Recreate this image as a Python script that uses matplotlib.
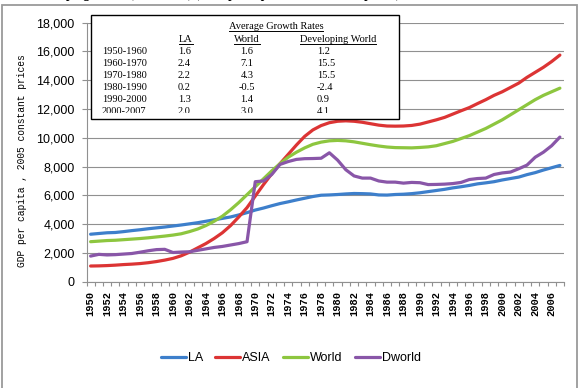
import numpy as np
import matplotlib
matplotlib.use('Agg')
import matplotlib.pyplot as plt
from matplotlib.patches import Rectangle
from matplotlib.lines import Line2D
from matplotlib.transforms import Bbox, TransformedBbox
from matplotlib.ticker import FuncFormatter, FixedLocator

# GDP per capita, 2005 constant prices
years = np.arange(1950, 2008)

la = [3300, 3350, 3400, 3420, 3480, 3550, 3610, 3680, 3740, 3800,
      3870, 3940, 4020, 4100, 4200, 4300, 4400, 4500, 4640, 4800,
      4980, 5120, 5280, 5430, 5550, 5680, 5800, 5920, 6010, 6030,
      6060, 6100, 6130, 6120, 6100, 6030, 6020, 6060, 6080, 6120,
      6180, 6260, 6340, 6420, 6520, 6600, 6690, 6800, 6870, 6950,
      7070, 7170, 7270, 7440, 7580, 7760, 7920, 8080]

asia = [1090, 1100, 1120, 1150, 1190, 1220, 1260, 1320, 1400, 1500,
        1620, 1800, 2050, 2350, 2650, 3000, 3400, 3900, 4500, 5150,
        5950, 6750, 7500, 8200, 8850, 9500, 10100, 10550, 10850, 11050,
        11150, 11180, 11150, 11080, 10980, 10880, 10820, 10810, 10820, 10860,
        10950, 11100, 11250, 11420, 11650, 11880, 12100, 12380, 12650, 12950,
        13200, 13500, 13800, 14200, 14550, 14900, 15300, 15750]

world = [2780, 2820, 2860, 2880, 2920, 2960, 3000, 3050, 3110, 3170,
         3240, 3330, 3480, 3660, 3900, 4200, 4550, 5000, 5500, 6050,
         6600, 7150, 7700, 8200, 8650, 9000, 9300, 9550, 9700, 9790,
         9820, 9790, 9720, 9620, 9520, 9430, 9360, 9320, 9310, 9300,
         9330, 9370, 9450, 9600, 9750, 9950, 10150, 10400, 10650, 10950,
         11250, 11600, 11950, 12300, 12650, 12950, 13200, 13450]

dworld = [1780, 1900, 1860, 1880, 1920, 1960, 2050, 2150, 2230, 2250,
          2030, 2060, 2080, 2180, 2280, 2380, 2450, 2550, 2650, 2780,
          6950, 7000, 7450, 8150, 8350, 8500, 8550, 8560, 8580, 8960,
          8450, 7780, 7350, 7200, 7200, 7000, 6920, 6920, 6850, 6900,
          6880, 6750, 6760, 6780, 6820, 6900, 7100, 7170, 7200, 7450,
          7560, 7620, 7850, 8100, 8650, 9000, 9450, 10050]

series_names = ['LA', 'ASIA', 'World', 'Dworld']
series_colors = ['#3d7fcb', '#dc3434', '#8dc63f', '#8956a8']

# inset table of average growth rates
periods = ['1950-1960', '1960-1970', '1970-1980', '1980-1990', '1990-2000', '2000-2007']
la_rates = ['1.6', '2.4', '2.2', '0.2', '1.3', '2.0']
world_rates = ['1.6', '7.1', '4.3', '-0.5', '1.4', '3.0']
dw_rates = ['1.2', '15.5', '15.5', '-2.4', '0.9', '4.1']

W, H = 580, 388
MONO = ['Liberation Mono', 'DejaVu Sans Mono']
SERIF = ['Liberation Serif', 'DejaVu Serif']
SANS = ['Liberation Sans', 'DejaVu Sans']


def px(x, y):
    """pixel position (from top-left) -> figure fraction"""
    return x / W, 1 - y / H


fig = plt.figure(figsize=(5.8, 3.88), dpi=100)
ax = fig.add_axes([86.5 / W, 1 - 281.7 / H, (564 - 86.5) / W, (281.7 - 22.7) / H])

for vals, name, col in zip([la, asia, world, dworld], series_names, series_colors):
    ax.plot(years, vals, color=col, linewidth=2.3, label=name, solid_capstyle='round')

ax.set_xlim(1949.5, 2007.5)
ax.set_ylim(0, 18000)
ax.set_yticks(np.arange(0, 18001, 2000))
ax.yaxis.set_major_formatter(FuncFormatter(lambda v, p: f'{int(v):,}'))
ax.grid(axis='y', color='#909090', linewidth=0.8)
ax.set_axisbelow(True)

for s in ['top', 'right']:
    ax.spines[s].set_visible(False)
for s in ['left', 'bottom']:
    ax.spines[s].set_color('#909090')
    ax.spines[s].set_linewidth(0.8)

ax.tick_params(axis='y', direction='out', length=3.5, width=0.8, color='#909090', pad=5)
for lab in ax.get_yticklabels():
    lab.set_family(SANS)
    lab.set_fontsize(9)

# x axis: tick marks between categories, labels every second year
ax.xaxis.set_major_locator(FixedLocator(years[::2]))
ax.xaxis.set_minor_locator(FixedLocator(np.append(years - 0.5, years[-1] + 0.5)))
ax.tick_params(axis='x', which='major', length=0, pad=7)
ax.tick_params(axis='x', which='minor', direction='out', length=3, width=0.8, color='#909090')
ax.set_xticklabels([str(y) for y in years[::2]], rotation=90,
                   family=MONO, fontweight='bold', fontsize=7.5)

fig.text(*px(22, 161), 'GDP per capita , 2005 constant prices', rotation=90,
         ha='center', va='center', family=MONO, fontsize=6.9)

fig.legend(loc='center', bbox_to_anchor=px(291, 358), ncol=4, frameon=False,
           handlelength=2.0, handletextpad=0.15, columnspacing=1.0,
           prop={'family': SANS, 'size': 9})

# outer frame
fig.add_artist(Rectangle(px(2, 400), 575 / W, 395 / H, transform=fig.transFigure,
                         fill=False, edgecolor='#9a9a9a', linewidth=1.3))

# caption of the source page, only its lowest edge shows
fig.text(*px(30, -2.2), 'Developing World (1950-2007) (GDP per capita, 2005 constant prices)',
         ha='left', va='baseline', fontweight='bold', fontsize=9, family=SERIF)

# inset table
box = Rectangle(px(91, 119), (399 - 91) / W, (119 - 15) / H, transform=fig.transFigure,
                facecolor='white', edgecolor='black', linewidth=1.0, zorder=2)
fig.add_artist(box)
clip = TransformedBbox(Bbox([list(px(91, 113)), list(px(399, 15))]), fig.transFigure)

tfont = dict(family=SERIF, fontsize=7.5, zorder=3)
underlined = []
underlined.append(fig.text(*px(276, 29), 'Average Growth Rates', ha='center', va='baseline', **tfont))
underlined.append(fig.text(*px(186, 42), 'LA', ha='center', va='baseline', **tfont))
underlined.append(fig.text(*px(247, 42), 'World', ha='center', va='baseline', **tfont))
underlined.append(fig.text(*px(338, 42), 'Developing World', ha='center', va='baseline', **tfont))

row_y = 51.5
for per, a, b, c in zip(periods, la_rates, world_rates, dw_rates):
    for xx, txt, ha in [(102, per, 'left'), (178, a, 'left'), (247, b, 'center'), (317, c, 'left')]:
        t = fig.text(*px(xx, row_y), txt, ha=ha, va='center', **tfont)
        t.set_clip_box(clip)
        t.set_clip_on(True)
    row_y += 11.9

fig.canvas.draw()
r = fig.canvas.get_renderer()
for t in underlined:
    bb = t.get_window_extent(r)
    x0, x1 = bb.x0 / W, bb.x1 / W
    yb = t.get_position()[1] - 1.6 / H
    fig.add_artist(Line2D([x0, x1], [yb, yb], transform=fig.transFigure,
                          color='black', linewidth=0.7, zorder=3))

fig.savefig('out.png', dpi=100)
